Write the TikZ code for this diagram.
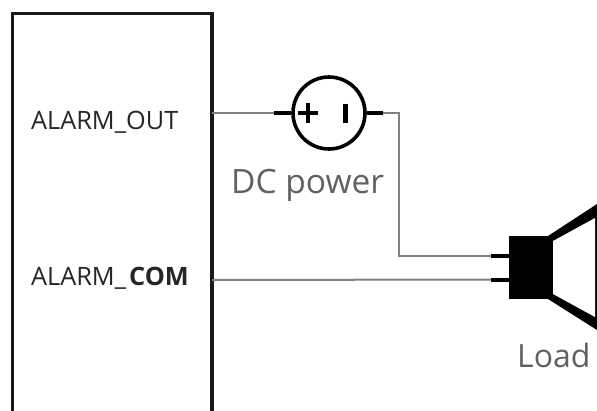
\documentclass[tikz,border=0pt]{standalone}
\usepackage{fontspec}
\setmainfont{Open Sans}
\definecolor{wire}{gray}{0.5}
\definecolor{txt}{gray}{0.15}
\definecolor{lbl}{gray}{0.38}
\tikzset{
  wireline/.style={draw=wire,line width=2pt},
  stub/.style={draw=black,line width=4pt},
  thick box/.style={draw=black!90,line width=3.4pt},
  tag/.style={inner sep=0pt,anchor=base west,text=txt,font=\fontsize{25.3}{25.3}\selectfont},
  caption/.style={inner sep=0pt,anchor=base west,text=lbl,font=\fontsize{33.5}{33.5}\selectfont},
}
\begin{document}
\begin{tikzpicture}[x=1pt,y=-1pt]
\useasboundingbox (0,0) rectangle (597,410);
\fill[white] (0,0) rectangle (597,410);
% device box (runs off the lower edge)
\draw[thick box] (12.5,420) -- (12.5,13.5) -- (212,13.5) -- (212,420);
\coordinate (outpin) at (212,113);
\coordinate (compin) at (212,280);
\node[tag] (out) at (31,129) {ALARM\_OUT};
\node[tag] (com) at (31,285) {ALARM\_\hspace{3pt}\textbf{COM}};
% source
\node[circle,draw=black,line width=3.6pt,minimum size=72pt,inner sep=0pt] (dc) at (329,113) {};
\coordinate (dcl) at (274,113);
\coordinate (dcr) at (383,113);
\draw[stub] (dcl) -- (dc.west);
\draw[stub] (dc.east) -- (dcr);
\draw[black,line width=4pt] (298,113) -- (318,113) (308,103) -- (308,123);
\draw[black,line width=4.6pt] (345.5,103.5) -- (345.5,123);
\node[caption] (dclabel) at (231,193) {DC power};
% load
\fill[black] (509,236) rectangle (552,299);
\path[fill=black] (548,236) -- (597,204) -- (597,330) -- (548,299) -- cycle;
\path[fill=white] (553,241) -- (595,218) -- (595,317) -- (553,294) -- cycle;
\coordinate (lt) at (491,256);
\coordinate (lb) at (491,279.5);
\draw[stub] (lt) -- (510,256);
\draw[stub] (lb) -- (510,279.5);
\node[caption,font=\fontsize{32}{32}\selectfont] (load) at (517,367) {Load};
% wires
\draw[wireline] (outpin) -- (dcl);
\draw[wireline] (dcr) -- (399,113) -- (399,256) -- (lt);
\draw[wireline] (compin) -- (lb);
\end{tikzpicture}
\end{document}
